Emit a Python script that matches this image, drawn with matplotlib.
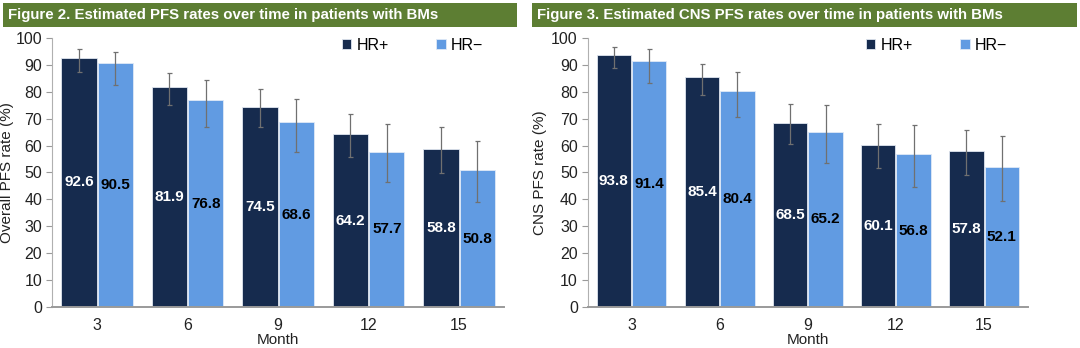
import numpy as np
import matplotlib
matplotlib.use("Agg")
import matplotlib.pyplot as plt
from matplotlib.patches import Rectangle

plt.rcParams['font.family'] = ['Liberation Sans', 'DejaVu Sans']

months = ['3', '6', '9', '12', '15']

# Figure 2: overall PFS
pfs_hrpos = [92.6, 81.9, 74.5, 64.2, 58.8]
pfs_hrneg = [90.5, 76.8, 68.6, 57.7, 50.8]
pfs_hrpos_lo = [87.5, 75.1, 67.0, 55.9, 49.7]
pfs_hrpos_hi = [95.8, 87.1, 80.9, 71.6, 67.0]
pfs_hrneg_lo = [82.5, 67.0, 57.7, 46.4, 39.0]
pfs_hrneg_hi = [94.9, 84.4, 77.3, 68.0, 61.7]

# Figure 3: CNS PFS
cns_hrpos = [93.8, 85.4, 68.5, 60.1, 57.8]
cns_hrneg = [91.4, 80.4, 65.2, 56.8, 52.1]
cns_hrpos_lo = [88.7, 78.8, 60.5, 51.6, 49.0]
cns_hrpos_hi = [96.8, 90.3, 75.5, 68.0, 65.8]
cns_hrneg_lo = [83.4, 70.5, 53.6, 44.7, 39.4]
cns_hrneg_hi = [95.8, 87.5, 75.0, 67.7, 63.6]

DARK = '#162b4e'
LIGHT = '#619be2'
GREEN = '#5d7e33'
TXT = '#222222'


def draw_panel(ax, pos, neg, pos_lo, pos_hi, neg_lo, neg_hi, ylabel, label_x):
    x = np.arange(len(months))
    w = 0.39
    gap = 0.012
    xp = x - w / 2 - gap / 2
    xn = x + w / 2 + gap / 2
    ax.bar(xp, pos, w, color=DARK, edgecolor='#dfe6ef', linewidth=0.6,
           label='HR+', zorder=2)
    ax.bar(xn, neg, w, color=LIGHT, edgecolor='#dfe9f7', linewidth=0.6,
           label='HR\u2212', zorder=2)
    pos, neg = np.array(pos), np.array(neg)
    ax.errorbar(xp, pos, yerr=[pos - np.array(pos_lo), np.array(pos_hi) - pos],
                fmt='none', ecolor='#707070', elinewidth=0.9, capsize=1.8,
                capthick=0.9, zorder=3)
    ax.errorbar(xn, neg, yerr=[neg - np.array(neg_lo), np.array(neg_hi) - neg],
                fmt='none', ecolor='#707070', elinewidth=0.9, capsize=1.8,
                capthick=0.9, zorder=3)
    for xi, v in zip(xp, pos):
        ax.text(xi, v / 2, f'{v:.1f}', ha='center', va='center', color='white',
                fontsize=11, fontweight='bold', zorder=4)
    for xi, v in zip(xn, neg):
        ax.text(xi, v / 2, f'{v:.1f}', ha='center', va='center', color='black',
                fontsize=11, fontweight='bold', zorder=4)

    ax.set_xlim(-0.5, len(months) - 0.5)
    ax.set_ylim(0, 100)
    ax.set_yticks(range(0, 101, 10))
    ax.set_xticks(x)
    ax.set_xticklabels(months)
    ax.tick_params(axis='x', length=0, pad=8, labelsize=11.5, colors=TXT)
    ax.tick_params(axis='y', length=4, width=0.8, color='#9a9a9a', pad=3,
                   labelsize=11.5, labelcolor=TXT)
    for s in ['top', 'right']:
        ax.spines[s].set_visible(False)
    ax.spines['left'].set_color('#b0b0b0')
    ax.spines['left'].set_linewidth(0.8)
    ax.spines['bottom'].set_color('#9a9a9a')
    ax.spines['bottom'].set_linewidth(1.4)
    ax.set_ylabel(ylabel, fontsize=11, color=TXT)
    ax.yaxis.set_label_coords(label_x, 0.5)
    ax.set_xlabel('Month', fontsize=11, color=TXT, labelpad=0)
    ax.legend(loc='upper right', bbox_to_anchor=(0.985, 1.055), ncol=2,
              frameon=False, fontsize=11.5, handlelength=0.6, handleheight=0.6,
              handletextpad=0.3, columnspacing=3.0)


fig = plt.figure(figsize=(10.8, 3.48), dpi=100)

ax1 = fig.add_axes([0.048, 0.118, 0.419, 0.773])
ax2 = fig.add_axes([0.544, 0.118, 0.408, 0.773])

draw_panel(ax1, pfs_hrpos, pfs_hrneg, pfs_hrpos_lo, pfs_hrpos_hi,
           pfs_hrneg_lo, pfs_hrneg_hi, 'Overall PFS rate (%)', -38 / 452)
draw_panel(ax2, cns_hrpos, cns_hrneg, cns_hrpos_lo, cns_hrpos_hi,
           cns_hrneg_lo, cns_hrneg_hi, 'CNS PFS rate (%)', -40 / 440)

# green title banners
for x0, x1, title in [(3, 517, 'Figure 2. Estimated PFS rates over time in patients with BMs'),
                      (532, 1077, 'Figure 3. Estimated CNS PFS rates over time in patients with BMs')]:
    fig.patches.append(Rectangle((x0 / 1080, 1 - 27 / 348), (x1 - x0) / 1080, 24 / 348,
                                 transform=fig.transFigure, facecolor=GREEN,
                                 edgecolor='none', zorder=0))
    fig.text((x0 + 5) / 1080, 1 - 15 / 348, title, ha='left', va='center',
             color='white', fontsize=10.8, fontweight='bold')

fig.savefig('out.png', dpi=100)
